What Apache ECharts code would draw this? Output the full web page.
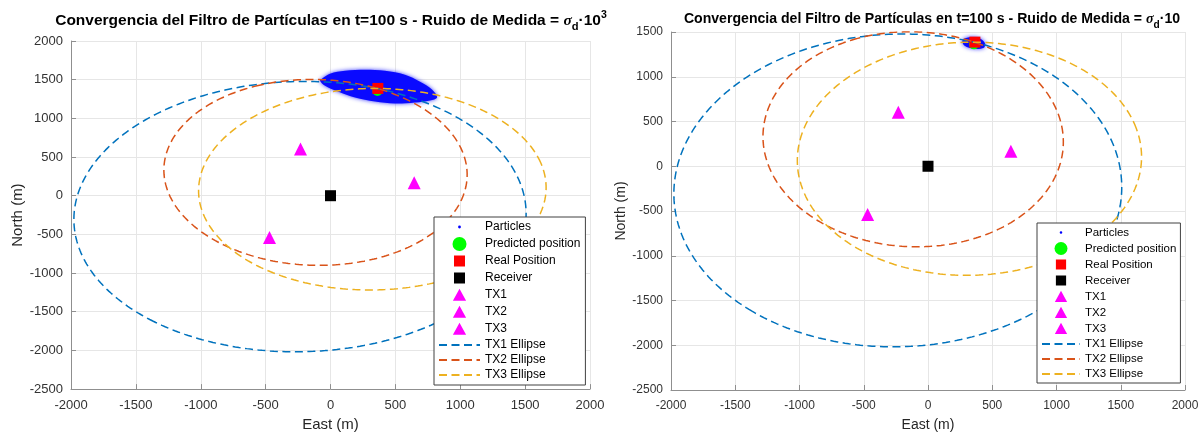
<!DOCTYPE html>
<html>
<head>
<meta charset="utf-8">
<script src="https://cdn.jsdelivr.net/npm/echarts@6/dist/echarts.min.js"></script>
<style>
  html, body { margin: 0; padding: 0; background: #fff; }
  #chart { width: 1203px; height: 437px; }
</style>
</head>
<body>
<div id="chart"></div>
<script>
// ---- scene geometry (metres, East / North) ----
const receiverEast = [0];
const receiverNorth = [0];

const txNames = ['TX1', 'TX2', 'TX3'];
const txEast = [-470, -231, 645];
const txNorth = [-540, 603, 168];

// bistatic range sums |Rx-P| + |P-Tx| that define each constant-range ellipse
const rangeSumLeft = [3527, 2414, 2684];
const rangeSumRight = [3527, 2414, 2684];

const realEast = [365];
const realNorth = [1387];
const predEastLeft = [362];
const predNorthLeft = [1355];
const predEastRight = [358];
const predNorthRight = [1362];

// outline of the particle cloud, sigma_d * 10^3 run
const cloudEastLeft = [-66, -4, 112, 266, 420, 574, 690, 782, 821, 767, 651, 497, 343, 189, 58, -42, -81];
const cloudNorthLeft = [1513, 1577, 1615, 1628, 1615, 1564, 1474, 1372, 1269, 1231, 1205, 1192, 1218, 1269, 1346, 1423, 1487];
// outline of the particle cloud, sigma_d * 10 run
const cloudEastRight = [268, 320, 400, 445, 430, 345, 285];
const cloudNorthRight = [1405, 1440, 1430, 1370, 1320, 1315, 1345];

// axis ranges / tick step
const xRange = [-2000, 2000];
const yRangeLeft = [-2500, 2000];
const yRangeRight = [-2500, 1500];
const tickStep = 500;

const ellipseColors = ['#0072BD', '#D95319', '#EDB120'];
const FONT = '"Liberation Sans", Arial, Helvetica, sans-serif';

// points of the ellipse with foci at the receiver and a transmitter
function ellipsePoints(fx, fy, gx, gy, sum) {
  const cx = (fx + gx) / 2, cy = (fy + gy) / 2;
  const a = sum / 2;
  const c = Math.hypot(gx - fx, gy - fy) / 2;
  const b = Math.sqrt(a * a - c * c);
  const th = Math.atan2(gy - fy, gx - fx);
  const pts = [];
  for (let k = 0; k <= 360; k++) {
    const t = k * Math.PI / 180;
    const u = a * Math.cos(t), v = b * Math.sin(t);
    pts.push([cx + u * Math.cos(th) - v * Math.sin(th), cy + u * Math.sin(th) + v * Math.cos(th)]);
  }
  return pts;
}

function buildSeries(idx, cloudE, cloudN, predE, predN, sums) {
  const axes = { xAxisIndex: idx, yAxisIndex: idx };
  const list = [];
  list.push(Object.assign({
    type: 'custom', name: 'Particles', clip: true,
    itemStyle: { color: '#0000ff' },
    data: cloudE.map((e, i) => [e, cloudN[i]]),
    encode: { x: 0, y: 1 },
    renderItem: function (params, api) {
      if (params.dataIndex !== 0) return null;
      const pts = cloudE.map((e, i) => api.coord([e, cloudN[i]]));
      return {
        type: 'polygon',
        shape: { points: pts, smooth: 0.35 },
        style: { fill: '#0a0aff', shadowBlur: 4, shadowColor: 'rgba(40,40,255,0.9)' }
      };
    }
  }, axes));
  list.push(Object.assign({
    type: 'scatter', name: 'Predicted position', symbol: 'circle', symbolSize: 10,
    itemStyle: { color: '#00ff00', opacity: 1 },
    data: predE.map((e, i) => [e, predN[i]])
  }, axes));
  list.push(Object.assign({
    type: 'scatter', name: 'Real Position', symbol: 'rect', symbolSize: 11,
    itemStyle: { color: '#ff0000', opacity: 1 },
    data: realEast.map((e, i) => [e, realNorth[i]])
  }, axes));
  list.push(Object.assign({
    type: 'scatter', name: 'Receiver', symbol: 'rect', symbolSize: 11,
    itemStyle: { color: '#000000', opacity: 1 },
    data: receiverEast.map((e, i) => [e, receiverNorth[i]])
  }, axes));
  txNames.forEach((n, i) => {
    list.push(Object.assign({
      type: 'scatter', name: n, symbol: 'triangle', symbolSize: 13,
      itemStyle: { color: '#ff00ff', opacity: 1 },
      data: [[txEast[i], txNorth[i]]]
    }, axes));
  });
  txNames.forEach((n, i) => {
    list.push(Object.assign({
      type: 'line', name: n + ' Ellipse', symbol: 'none', clip: true,
      lineStyle: { color: ellipseColors[i], width: 1.5, type: [8, 4.5] },
      itemStyle: { color: ellipseColors[i] },
      data: ellipsePoints(receiverEast[0], receiverNorth[0], txEast[i], txNorth[i], sums[i])
    }, axes));
  });
  return list;
}

// legend glyphs: an empty anchor box around a smaller mark keeps the mark's size
const DOT_ICON = 'path://M0,0ZM20,20ZM10,8A2,2,0,1,1,10,12A2,2,0,1,1,10,8Z';
const SQUARE_ICON = 'path://M0,0ZM14,14ZM1.5,1.5L12.5,1.5L12.5,12.5L1.5,12.5Z';
const TRIANGLE_ICON = 'path://M0,0ZM14,14ZM7,0.8L13.6,12.8L0.4,12.8Z';

function legendFor(left, top, fontSize, itemWidth, itemHeight, pad) {
  const hideMark = { opacity: 0 };
  return {
    orient: 'vertical', left: left, top: top,
    itemWidth: itemWidth, itemHeight: itemHeight, itemGap: 3,
    padding: pad, backgroundColor: '#ffffff', borderColor: '#404040', borderWidth: 1,
    borderRadius: 0, selectedMode: false,
    textStyle: { fontFamily: FONT, fontSize: fontSize, color: '#000000' },
    data: [
      { name: 'Particles', icon: DOT_ICON },
      { name: 'Predicted position', icon: 'circle' },
      { name: 'Real Position', icon: SQUARE_ICON },
      { name: 'Receiver', icon: SQUARE_ICON },
      { name: 'TX1', icon: TRIANGLE_ICON },
      { name: 'TX2', icon: TRIANGLE_ICON },
      { name: 'TX3', icon: TRIANGLE_ICON },
      { name: 'TX1 Ellipse', itemStyle: hideMark },
      { name: 'TX2 Ellipse', itemStyle: hideMark },
      { name: 'TX3 Ellipse', itemStyle: hideMark }
    ]
  };
}

function valueAxis(idx, range, labelSize, nameText, nameSize, nameGap, isX) {
  return {
    type: 'value', gridIndex: idx, min: range[0], max: range[1], interval: tickStep,
    name: nameText, nameLocation: 'middle', nameGap: nameGap,
    nameTextStyle: { fontFamily: FONT, fontSize: nameSize, color: '#262626' },
    axisLine: { show: true, onZero: false, lineStyle: { color: '#8f8f8f', width: 1 } },
    axisTick: { show: true, inside: true, length: 5, lineStyle: { color: '#8f8f8f' } },
    axisLabel: {
      fontFamily: FONT, fontSize: labelSize, color: '#333333', margin: isX ? 10 : 8,
      formatter: v => String(v)
    },
    splitLine: { show: true, lineStyle: { color: '#e6e6e6', width: 1 } }
  };
}

function titleFor(centerX, top, mainSize, tail) {
  return {
    text: '{t|Convergencia del Filtro de Partículas en t=100 s - Ruido de Medida = }{s|σ}{d|d}{t|·10}' + tail,
    left: centerX, top: top, textAlign: 'center',
    textStyle: {
      rich: {
        t: { fontFamily: FONT, fontWeight: 'bold', fontSize: mainSize, color: '#000', lineHeight: 22 },
        s: { fontFamily: '"Liberation Serif", serif', fontStyle: 'italic', fontSize: mainSize, color: '#000', lineHeight: 22 },
        d: { fontFamily: FONT, fontWeight: 'bold', fontSize: mainSize * 0.72, color: '#000', verticalAlign: 'bottom', lineHeight: 12 },
        e: { fontFamily: FONT, fontWeight: 'bold', fontSize: mainSize * 0.68, color: '#000', verticalAlign: 'top', lineHeight: 12 }
      }
    }
  };
}

const chart = echarts.init(document.getElementById('chart'), null, { renderer: 'canvas' });
chart.setOption({
  animation: false,
  backgroundColor: '#ffffff',
  title: [
    titleFor(326, 5, 15.5, '{e|3}'),
    titleFor(927, 3, 14.1, '')
  ],
  grid: [
    { left: 71, top: 41, width: 519, height: 351 },
    { left: 671, top: 32, width: 514, height: 360 }
  ],
  xAxis: [
    valueAxis(0, xRange, 13, 'East (m)', 15, 27, true),
    valueAxis(1, xRange, 12, 'East (m)', 14, 28, true)
  ],
  yAxis: [
    valueAxis(0, yRangeLeft, 13, 'North (m)', 15, 46, false),
    valueAxis(1, yRangeRight, 12, 'North (m)', 14, 43, false)
  ],
  legend: [
    legendFor(434, 217, 12, 41, 14, [3, 5, 4, 4]),
    legendFor(1037, 223, 11.5, 38, 13, [3, 4, 3, 4])
  ],
  series: [].concat(
    buildSeries(0, cloudEastLeft, cloudNorthLeft, predEastLeft, predNorthLeft, rangeSumLeft),
    buildSeries(1, cloudEastRight, cloudNorthRight, predEastRight, predNorthRight, rangeSumRight)
  )
});
</script>
</body>
</html>
